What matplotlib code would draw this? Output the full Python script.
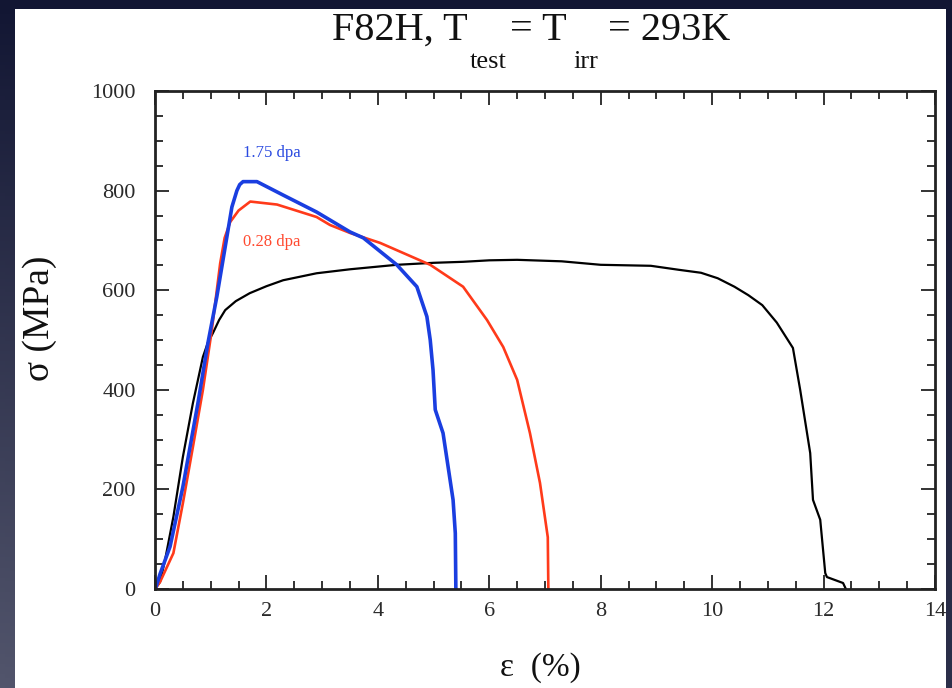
import numpy as np
import matplotlib
matplotlib.use("Agg")
import matplotlib.pyplot as plt
from matplotlib.patches import Rectangle
from matplotlib.ticker import MultipleLocator

# ---- data (strain %, stress MPa) ----
unirr_eps = [0, 0.09, 0.18, 0.33, 0.50, 0.68, 0.86, 0.95, 1.04, 1.15, 1.26, 1.45, 1.70,
             2.00, 2.30, 2.90, 3.50, 4.34, 5.00, 5.53, 6.00, 6.50, 7.30, 8.00, 8.90,
             9.40, 9.80, 10.10, 10.40, 10.65, 10.90, 11.16, 11.45, 11.58, 11.76, 11.81,
             11.94, 12.03, 12.06, 12.35, 12.40]
unirr_sig = [0, 14, 58, 145, 265, 373, 466, 495, 514, 540, 560, 578, 594,
             608, 620, 634, 642, 651, 655, 657, 660, 661, 658, 651, 649,
             641, 635, 624, 607, 590, 570, 535, 484, 400, 273, 179,
             139, 32, 24, 12, 0]

dpa028_eps = [0, 0.09, 0.33, 0.50, 0.68, 0.86, 1.02, 1.17, 1.25, 1.35, 1.50, 1.71,
              2.19, 2.90, 3.14, 3.50, 4.04, 4.94, 5.53, 5.96, 6.25, 6.50, 6.73,
              6.91, 7.05, 7.06]
dpa028_sig = [0, 14, 72, 172, 285, 400, 520, 654, 705, 737, 760, 778,
              772, 747, 731, 715, 695, 651, 607, 540, 486, 420, 313,
              213, 104, 0]

dpa175_eps = [0, 0.03, 0.09, 0.27, 0.50, 0.77, 0.95, 1.11, 1.29, 1.38, 1.47, 1.52,
              1.58, 1.83, 2.30, 2.90, 3.14, 3.50, 3.74, 4.34, 4.70, 4.88, 4.94,
              4.99, 5.03, 5.17, 5.26, 5.35, 5.39, 5.40]
dpa175_sig = [0, 8, 30, 85, 205, 373, 494, 587, 707, 767, 800, 812,
              818, 818, 791, 757, 741, 717, 705, 651, 607, 547, 500,
              440, 360, 313, 246, 179, 112, 0]

x_ticks = [0, 2, 4, 6, 8, 10, 12, 14]
y_ticks = [0, 200, 400, 600, 800, 1000]

W, H = 953, 688
plt.rcParams['font.family'] = ['Liberation Serif', 'DejaVu Serif']
fig = plt.figure(figsize=(W / 100, H / 100), dpi=100)

# slide background gradient
bg = fig.add_axes([0, 0, 1, 1])
yy = np.linspace(0, 1, 200)[:, None]
xx = np.linspace(0, 1, 200)[None, :]
top = np.array([0x12, 0x16, 0x33]) / 255
bot = np.array([0x52, 0x55, 0x6c]) / 255
t = np.clip(yy * (1.0 - 0.6 * xx), 0, 1)
img = top[None, None, :] * (1 - t[..., None]) + bot[None, None, :] * t[..., None]
bg.imshow(img, aspect='auto', extent=[0, 1, 0, 1], origin='upper')
bg.set_axis_off()
bg.add_patch(Rectangle((15 / W, 0), (946 - 15) / W, 1 - 9 / H,
                       transform=bg.transAxes, facecolor='white', edgecolor='none'))

ax = fig.add_axes([155 / W, 1 - 589 / H, (935 - 155) / W, (589 - 91) / H])
ax.plot(unirr_eps, unirr_sig, color='black', lw=1.6)
ax.plot(dpa028_eps, dpa028_sig, color='#ff3a1a', lw=1.9)
ax.plot(dpa175_eps, dpa175_sig, color='#1a3ee0', lw=2.6)

ax.text(1.58, 875, '1.75 dpa', color='#2a4ae0', fontsize=12, va='center', ha='left')
ax.text(1.58, 697, '0.28 dpa', color='#ff4a30', fontsize=12, va='center', ha='left')

ax.set_xlim(0, 14)
ax.set_ylim(0, 1000)
ax.set_xticks(x_ticks)
ax.set_yticks(y_ticks)
ax.xaxis.set_minor_locator(MultipleLocator(0.5))
ax.yaxis.set_minor_locator(MultipleLocator(50))
ax.tick_params(which='both', direction='in', top=True, right=True, width=1.2, color='#111111')
ax.tick_params(which='major', length=10)
ax.tick_params(which='minor', length=6)
ax.tick_params(axis='x', which='major', labelsize=16, pad=9, labelcolor='#2a2a2a')
ax.tick_params(axis='y', which='major', labelsize=16, pad=14, labelcolor='#2a2a2a')
for s in ax.spines.values():
    s.set_linewidth(2.0)
    s.set_color('#222222')

# title in pieces (large, deep subscripts)
def ftext(px, py, s, size):
    fig.text(px / W, 1 - py / H, s, fontsize=size, ha='left', va='baseline', color='#111111')

ftext(332, 40, 'F82H, T', 29)
ftext(470, 68, 'test', 19)
ftext(510, 40, '= T', 29)
ftext(573, 68, 'irr', 19)
ftext(608, 40, '= 293K', 29)

fig.text(40 / W, 1 - 318 / H, 'σ (MPa)', fontsize=27, rotation=90, ha='center', va='center', color='#111111')
fig.text(540 / W, 1 - 668 / H, 'ε  (%)', fontsize=24, ha='center', va='center', color='#111111')

fig.savefig('out.png', dpi=100)
